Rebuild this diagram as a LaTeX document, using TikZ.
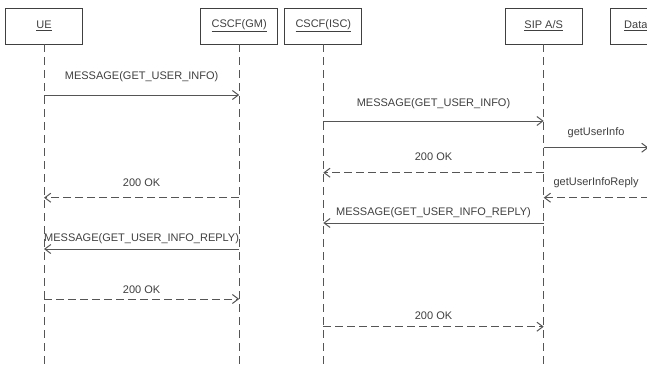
\documentclass[tikz,border=0pt]{standalone}
\usepackage{fontspec}
\setmainfont{Liberation Sans}
\usetikzlibrary{arrows.meta}
\definecolor{ink}{HTML}{404040}
\definecolor{lineg}{HTML}{555555}
\begin{document}
\begin{tikzpicture}[x=1pt,y=-1pt,
  every node/.style={font=\fontsize{11}{13}\selectfont, text=ink},
  actor/.style={draw=ink, line width=0.9pt, minimum width=77pt, minimum height=36pt, inner sep=0pt},
  lifeline/.style={draw=lineg, line width=1pt, dash pattern=on 8pt off 5pt},
  msg/.style={draw=lineg, line width=1pt, -{Straight Barb[length=6pt,width=9pt,line width=1pt]}},
  reply/.style={msg, dash pattern=on 8pt off 4pt},
  lbl/.style={inner sep=0pt}]
  % canvas
  \fill[white] (0,0) rectangle (647,368);
  \useasboundingbox (0,0) rectangle (647,368);
  \clip (0,0) rectangle (647,368);

  % participants
  \node[actor] (ue)  at (44,26)    {\underline{UE}};
  \node[actor] (gm)  at (239.2,26) {\underline{CSCF(GM)}};
  \node[actor] (isc) at (323.3,26) {\underline{CSCF(ISC)}};
  \node[actor] (sip) at (543.7,26) {\underline{SIP A/S}};
  \node[actor] (db)  at (648.5,26) {};
  \node[lbl, anchor=west] (dbl) at (624,26) {\underline{Data}};

  % lifelines
  \foreach \p in {ue,gm,isc,sip,db}
    \draw[lifeline] (\p.south) -- (\p |- 0,368);

  % messages
  \draw[msg] (ue |- 0,95) -- node[lbl, midway, yshift=18pt] (m1) {MESSAGE(GET\_USER\_INFO)} (gm |- 0,95);
  \draw[msg] (isc |- 0,121) -- node[lbl, midway, yshift=17pt] (m2) {MESSAGE(GET\_USER\_INFO)} (sip |- 0,121);
  \draw[msg] (sip |- 0,147.7) -- node[lbl, midway, yshift=15.5pt] (m3) {getUserInfo} (db |- 0,147.7);
  \draw[reply] (sip |- 0,172.7) -- node[lbl, midway, yshift=16pt] (m4) {200 OK} (isc |- 0,172.7);
  \draw[reply] (gm |- 0,197.7) -- node[lbl, midway, yshift=15pt] (m5) {200 OK} (ue |- 0,197.7);
  \draw[reply] (db |- 0,197.7) -- node[lbl, midway, yshift=14.7pt] (m6) {getUserInfoReply} (sip |- 0,197.7);
  \draw[msg] (sip |- 0,223) -- node[lbl, midway, yshift=10.5pt] (m7) {MESSAGE(GET\_USER\_INFO\_REPLY)} (isc |- 0,223);
  \draw[msg] (gm |- 0,249) -- node[lbl, midway, yshift=10pt] (m8) {MESSAGE(GET\_USER\_INFO\_REPLY)} (ue |- 0,249);
  \draw[reply] (ue |- 0,299) -- node[lbl, midway, yshift=9.5pt] (m9) {200 OK} (gm |- 0,299);
  \draw[reply] (isc |- 0,326.7) -- node[lbl, midway, yshift=11pt] (m10) {200 OK} (sip |- 0,326.7);
\end{tikzpicture}
\end{document}
